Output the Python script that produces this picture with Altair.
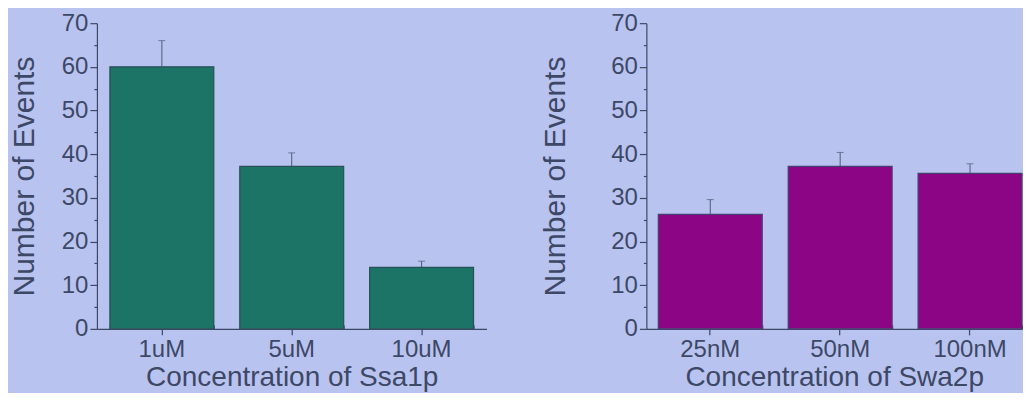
import altair as alt
import pandas as pd

# ---- data ----
left_cats = ["1uM", "5uM", "10uM"]
left_vals = [60.0, 37.2, 14.1]
left_errs = [6.0, 3.1, 1.4]

right_cats = ["25nM", "50nM", "100nM"]
right_vals = [26.2, 37.2, 35.6]
right_errs = [3.4, 3.2, 2.2]

y_ticks = list(range(0, 75, 5))

INK = "#3d4866"
BG = "#b9c3ef"
ERR = "#4d5a78"
H = 306


def panel(cats, vals, errs, color, stroke, xtitle, ytitle_pad, width, xscale):
    df = pd.DataFrame({"cat": cats, "val": vals, "err": errs})
    df["upper"] = df["val"] + df["err"]

    xaxis = alt.Axis(
        labelAngle=0,
        labelAlign="center",
        labelBaseline="top",
        tickSize=6,
        labelPadding=3,
        titlePadding=2,
        labelFontSize=24,
        titleFontSize=28,
    )
    # inward boundary ticks drawn by a second axis placed on the bottom edge
    xaxis_minor = alt.Axis(
        orient="top",
        offset=-H,
        tickBand="extent",
        tickSize=4,
        labels=False,
        domain=False,
        title=None,
    )
    yaxis = alt.Axis(
        values=y_ticks,
        labelExpr="datum.value % 10 == 0 ? datum.label : ''",
        tickSize={"condition": {"test": "datum.value % 10 != 0", "value": 3}, "value": 7},
        labelPadding=2,
        titlePadding=ytitle_pad,
        labelFontSize=24,
        titleFontSize=30,
        grid=False,
    )
    yscale = alt.Scale(domain=[0, 70], nice=False)

    def Y(field):
        return alt.Y(field, scale=yscale, axis=yaxis, title="Number of Events")

    bars = alt.Chart(df).mark_bar(color=color, stroke=stroke, strokeWidth=1.2).encode(
        x=alt.X("cat:N", sort=cats, title=xtitle, scale=xscale, axis=xaxis),
        y=Y("val:Q"),
    )
    rule = alt.Chart(df).mark_rule(color=ERR, strokeWidth=1).encode(
        x=alt.X("cat:N", sort=cats, scale=xscale, axis=None),
        y=Y("val:Q"),
        y2="upper:Q",
    )
    cap = alt.Chart(df).mark_tick(
        color=ERR, size=7, thickness=1, orient="horizontal"
    ).encode(
        x=alt.X("cat:N", sort=cats, scale=xscale, axis=xaxis_minor),
        y=Y("upper:Q"),
    )
    return (
        alt.layer(rule, bars, cap)
        .resolve_axis(x="independent")
        .properties(width=width, height=H)
    )


left = panel(left_cats, left_vals, left_errs, "#1b7466", "#2b4f58",
             "Concentration of Ssa1p", 22, 390,
             alt.Scale(paddingInner=0.2, paddingOuter=0.1))
right = panel(right_cats, right_vals, right_errs, "#8c0584", "#463f70",
              "Concentration of Swa2p", 40, 376,
              alt.Scale(paddingInner=0.2, paddingOuter=0.046, align=1))

chart = (
    alt.hconcat(left, right, spacing=54)
    .properties(
        background=BG,
        padding={"left": 1, "top": 3, "right": 0, "bottom": 1},
    )
    .configure_view(stroke=None)
    .configure_axis(
        domainColor=INK,
        tickColor=INK,
        labelColor=INK,
        titleColor=INK,
        labelFont="Liberation Sans",
        titleFont="Liberation Sans",
        titleFontWeight="normal",
        domainWidth=1.2,
        tickWidth=1.2,
    )
)

chart.save("out.html", embed_options={"renderer": "svg", "actions": False})
